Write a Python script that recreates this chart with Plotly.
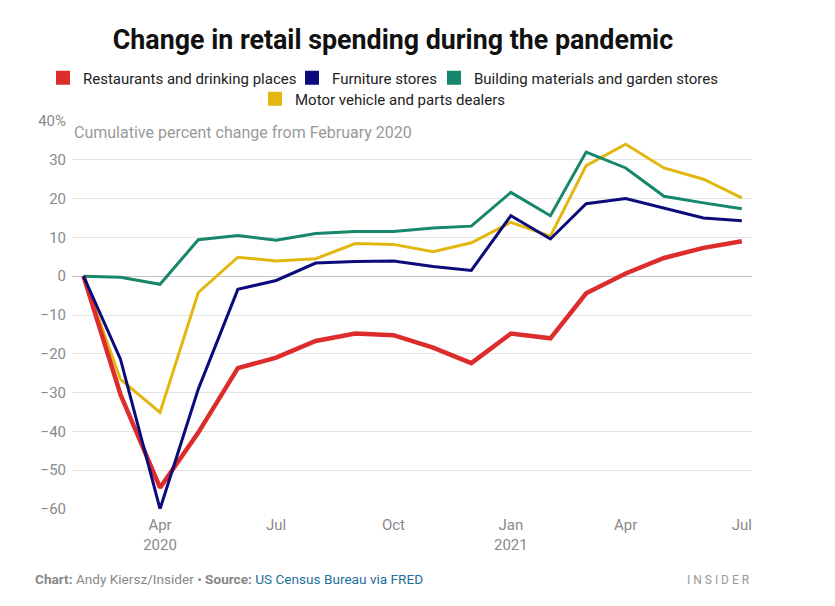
import plotly.graph_objects as go

months = ["2020-02-01", "2020-03-01", "2020-04-01", "2020-05-01", "2020-06-01", "2020-07-01",
          "2020-08-01", "2020-09-01", "2020-10-01", "2020-11-01", "2020-12-01", "2021-01-01",
          "2021-02-01", "2021-03-01", "2021-04-01", "2021-05-01", "2021-06-01", "2021-07-01"]

restaurants = [0, -30.5, -54.5, -40.3, -23.7, -21.0, -16.7, -14.8, -15.2, -18.4, -22.4, -14.8,
               -16.0, -4.4, 0.7, 4.7, 7.3, 9.0]
furniture = [0, -21.4, -60.0, -29.1, -3.4, -1.1, 3.4, 3.8, 3.9, 2.5, 1.5, 15.6,
             9.6, 18.7, 20.0, 17.6, 15.0, 14.3]
building = [0, -0.3, -2.1, 9.4, 10.5, 9.3, 11.0, 11.5, 11.5, 12.4, 12.9, 21.6,
            15.6, 32.0, 27.9, 20.6, 18.9, 17.4]
motor = [0, -26.6, -35.1, -4.2, 4.9, 3.9, 4.5, 8.4, 8.2, 6.3, 8.6, 13.9,
         10.3, 28.5, 34.0, 27.9, 25.0, 20.2]

series_names = ["Restaurants and drinking places", "Furniture stores",
                "Building materials and garden stores", "Motor vehicle and parts dealers"]
series_values = [restaurants, furniture, building, motor]
series_colors = ["#dd2c2c", "#0b0b7c", "#16876b", "#e2b711"]
series_widths = [4.5, 3, 3, 3]
legend_ids = ["legend", "legend2", "legend3", "legend4"]
legend_text_x = [83, 332, 474, 295]   # where each legend label starts (px)
legend_row_y = [78, 78, 78, 99]       # legend row centre (px)

x_tickvals = ["2020-04-01", "2020-07-01", "2020-10-01", "2021-01-01", "2021-04-01", "2021-07-01"]
x_ticktext = ["Apr<br>2020", "Jul", "Oct", "Jan<br>2021", "Apr", "Jul"]
y_tickvals = [-60, -50, -40, -30, -20, -10, 0, 10, 20, 30, 40]
y_ticktext = ["\u221260", "\u221250", "\u221240", "\u221230", "\u221220", "\u221210", "0",
              "10", "20", "30", "40%"]

FONT = "Roboto"
GRAY = "#8a8a8a"
W, H = 835, 606

fig = go.Figure()

draw_order = [3, 2, 0, 1]
for i in draw_order:
    fig.add_trace(go.Scatter(
        x=months, y=series_values[i], mode="lines", name=series_names[i],
        line=dict(color=series_colors[i], width=series_widths[i]),
        showlegend=False, cliponaxis=False, hoverinfo="skip"))

for i in range(4):
    fig.add_trace(go.Scatter(
        x=[None], y=[None], mode="markers", name=series_names[i],
        marker=dict(symbol="square", size=14, color=series_colors[i]),
        showlegend=True, legend=legend_ids[i]))

legend_layouts = {}
for i in range(4):
    legend_layouts[legend_ids[i]] = dict(
        orientation="h", xref="container", yref="container",
        x=(legend_text_x[i] - 40) / W, xanchor="left",
        y=1 - legend_row_y[i] / H, yanchor="middle",
        font=dict(size=15, color="#222222", family=FONT),
        itemwidth=30, bgcolor="rgba(0,0,0,0)", borderwidth=0)

fig.update_layout(
    width=W, height=H,
    margin=dict(l=72, r=83, t=121, b=97, autoexpand=False),
    paper_bgcolor="white", plot_bgcolor="white",
    font=dict(family=FONT, color="#222222"),
    title=dict(text="<b>Change in retail spending during the pandemic</b>",
               xref="container", x=393 / W, xanchor="center",
               y=1 - 40 / H, yanchor="middle",
               font=dict(size=26.8, color="#111111", family=FONT)),
    xaxis=dict(type="date", range=["2020-01-23", "2021-07-09"],
               tickvals=x_tickvals, ticktext=x_ticktext,
               showgrid=False, zeroline=False, showline=False, ticks="",
               ticklabelstandoff=5,
               tickfont=dict(size=15, color=GRAY, family=FONT)),
    yaxis=dict(range=[-60, 40], tickvals=y_tickvals, ticktext=y_ticktext,
               showgrid=True, gridcolor="#e3e3e3", gridwidth=1,
               zeroline=True, zerolinecolor="#c4c4c4", zerolinewidth=1,
               showline=False, ticks="", ticklabelstandoff=5,
               tickfont=dict(size=15, color=GRAY, family=FONT)),
    showlegend=True,
    **legend_layouts,
)

fig.add_annotation(text="Cumulative percent change from February 2020",
                   xref="paper", yref="paper", x=0.0, y=1 - 11 / 388,
                   xanchor="left", yanchor="middle", showarrow=False,
                   font=dict(size=16, color="#9a9a9a", family=FONT))

fig.add_annotation(text="<b>Chart:</b> Andy Kiersz/Insider \u2022 <b>Source:</b> "
                        "<span style='color:#1f6f9a'>US Census Bureau via FRED</span>",
                   xref="paper", yref="paper", x=(33 - 72) / 680, y=-(579 - 509) / 388,
                   xanchor="left", yanchor="middle", showarrow=False,
                   font=dict(size=13.6, color="#888888", family=FONT))

fig.add_annotation(text="I N S I D E R",
                   xref="paper", yref="paper", x=1.0, y=-(580 - 509) / 388,
                   xanchor="right", yanchor="middle", showarrow=False,
                   font=dict(size=12, color="#999999", family=FONT))

fig.write_html("out.html")
